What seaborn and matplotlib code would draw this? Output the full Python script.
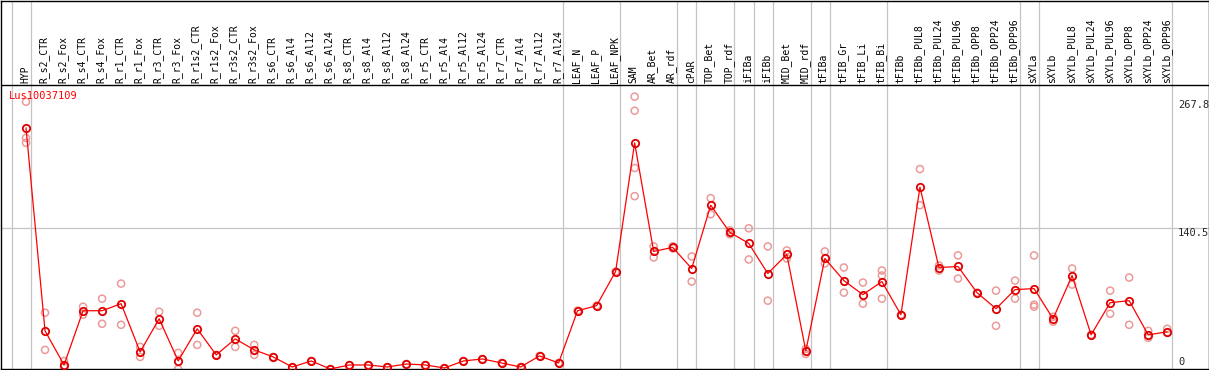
import numpy as np
import pandas as pd
import matplotlib
matplotlib.use("Agg")
import matplotlib.pyplot as plt
import seaborn as sns

# ── data ───────────────────────────────────────────────────────────────────

gene = "Lus10037109"

samples = [
    "HYP",
    "R_s2_CTR", "R_s2_Fox", "R_s4_CTR", "R_s4_Fox", "R_r1_CTR", "R_r1_Fox",
    "R_r3_CTR", "R_r3_Fox", "R_r1s2_CTR", "R_r1s2_Fox", "R_r3s2_CTR", "R_r3s2_Fox",
    "R_s6_CTR", "R_s6_Al4", "R_s6_Al12", "R_s6_Al24",
    "R_s8_CTR", "R_s8_Al4", "R_s8_Al12", "R_s8_Al24",
    "R_r5_CTR", "R_r5_Al4", "R_r5_Al12", "R_r5_Al24",
    "R_r7_CTR", "R_r7_Al4", "R_r7_Al12", "R_r7_Al24",
    "LEAF_N", "LEAF_P", "LEAF_NPK",
    "SAM", "AR_Bet", "AR_rdf", "cPAR", "TOP_Bet", "TOP_rdf", "iFIBa", "iFIBb",
    "MID_Bet", "MID_rdf", "tFIBa", "tFIB_Gr", "tFIB_Li", "tFIB_Bi", "tFIBb",
    "tFIBb_PUL8", "tFIBb_PUL24", "tFIBb_PUL96", "tFIBb_OPP8", "tFIBb_OPP24", "tFIBb_OPP96",
    "sXYLa", "sXYLb",
    "sXYLb_PUL8", "sXYLb_PUL24", "sXYLb_PUL96", "sXYLb_OPP8", "sXYLb_OPP24", "sXYLb_OPP96",
]

means = [
    240,
    38, 4, 58, 58, 65, 17, 50, 8, 40, 14, 30, 19,
    12, 2, 8, 0, 4, 4, 2, 5, 4, 1, 8, 10, 6, 2, 13, 6,
    58, 63, 97,
    225, 117, 121, 100, 163, 136, 125, 95, 114, 18, 110, 88, 74, 87, 54,
    181, 101, 102, 76, 60, 79,
    80, 50, 93, 34, 66, 68, 34, 37,
]

replicates = [
    [266, 230, 225],
    [56, 19], [8, 2], [62, 54], [70, 45], [85, 44], [22, 12],
    [57, 43], [16, 0], [56, 24], [14], [38, 22], [24, 14],
    [12], [2], [8], [0], [4], [4], [2], [5], [4], [1], [8], [10], [6], [2], [13], [6],
    [58], [63], [97],
    [271, 257, 200, 172], [122, 111], [122, 120], [112, 87], [170, 154], [138, 134],
    [140, 109], [122, 68], [118, 110], [20, 15], [117, 105], [101, 76], [86, 65],
    [98, 93, 70], [54],
    [199, 163], [103, 98], [113, 90], [76], [78, 43], [88, 70],
    [113, 64, 62], [52, 47], [100, 84], [34], [78, 55], [91, 44], [38, 31], [40, 36],
]

# last sample of each group (separator drawn just right of it)
group_ends = [-1, 0, 28, 31, 34, 35, 37, 38, 39, 41, 42, 45, 52, 53, 60]

y_max_label = 267.8
y_mid_label = 140.5

# ── frames ─────────────────────────────────────────────────────────────────

idx = np.arange(len(samples))
mean_df = pd.DataFrame({"pos": idx, "value": means})
rep_df = pd.DataFrame(
    [(i, v) for i, reps in enumerate(replicates) for v in reps],
    columns=["pos", "value"],
)

# ── plot ───────────────────────────────────────────────────────────────────

sns.set_style("white")
plt.rcParams["font.family"] = ["DejaVu Sans Mono", "DejaVu Sans"]

W, H = 1209, 370
fig = plt.figure(figsize=(W / 100, H / 100), dpi=100)
ax = fig.add_axes([0.5 / W, 1 / H, 1208 / W, 368.5 / H])

px_per_unit = 141 / 140.5
x0_px, dx_px = 26, 19.02
ax.set_xlim((0.5 - x0_px) / dx_px, (1208.5 - x0_px) / dx_px)
ax.set_ylim(0, 368 / px_per_unit)

for g in group_ends:
    ax.axvline(g + 0.25, color="#c4c4c4", lw=0.9, zorder=0)
ax.axhline(y_mid_label, xmin=0, xmax=1, color="#c4c4c4", lw=0.9, zorder=0)
header_y = 283.5 / px_per_unit
ax.axhline(header_y, color="black", lw=1.0, zorder=1)

sns.scatterplot(data=rep_df, x="pos", y="value", ax=ax, marker="o", s=26,
                facecolor="none", edgecolor="#eb9a9a", linewidth=1.1,
                legend=False, zorder=2)
sns.lineplot(data=mean_df, x="pos", y="value", ax=ax, color="red", lw=0.9,
             marker="o", markersize=5.3, markerfacecolor="none",
             markeredgecolor="#e00000", markeredgewidth=1.3, zorder=3)

label_y = 286 / px_per_unit
for i, name in enumerate(samples):
    ax.text(i - 0.05, label_y, name, rotation=90, ha="center", va="bottom",
            fontsize=7, color="black")

ax.text((9 - x0_px) / dx_px, 272, gene, color="red", fontsize=7.5,
        ha="left", va="center")

xr = (1178 - x0_px) / dx_px
ax.text(xr, y_max_label, f"{y_max_label}", fontsize=7.5, ha="left", va="top")
ax.text(xr, y_mid_label, f"{y_mid_label}", fontsize=7.5, ha="left", va="top")
ax.text(xr, 2, "0", fontsize=7.5, ha="left", va="bottom")

ax.set_xticks([])
ax.set_yticks([])
ax.set_xlabel("")
ax.set_ylabel("")
for sp in ax.spines.values():
    sp.set_visible(True)
    sp.set_color("black")
    sp.set_linewidth(1.0)

fig.savefig("out.png", dpi=100)
